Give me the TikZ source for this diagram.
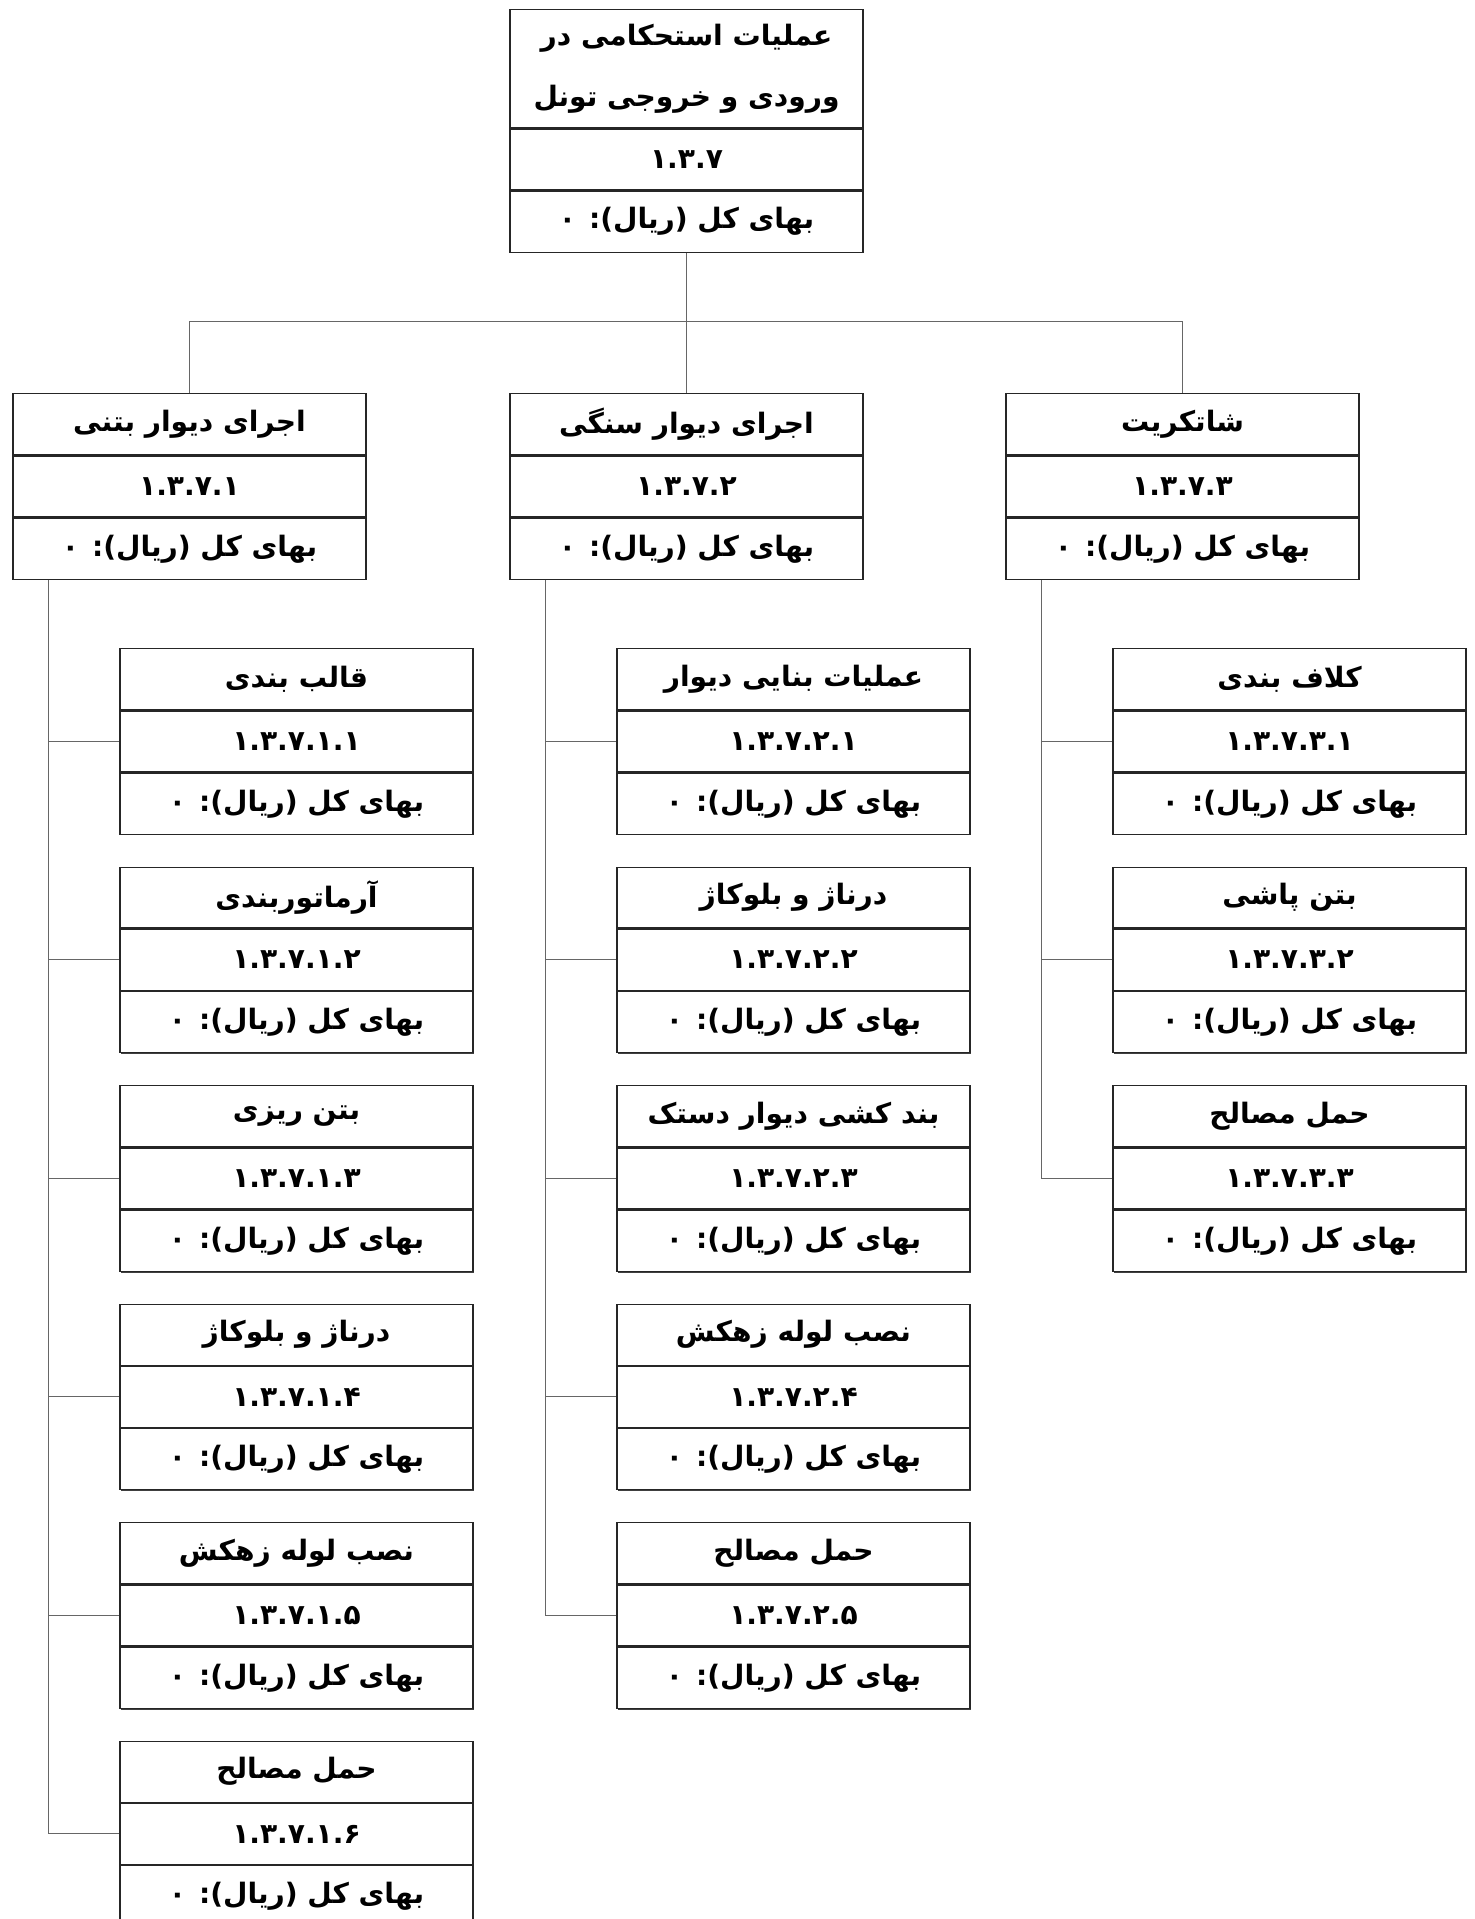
\documentclass[tikz,border=0pt]{standalone}
\usepackage{fontspec}
\newfontfamily\fafont[Script=Arabic]{DejaVu Sans}
\TeXXeTstate=1
\usetikzlibrary{positioning,shadows}

\newcommand{\rtlline}[1]{\beginR #1\endR}
\newcommand{\costline}{\rtlline{بهای کل (ریال): ۰}}
% one work package: title row, code row, cost row
\newcommand{\wbsbox}[5]{%
  \node[wrow, anchor=north] (#1-t) at (#2,#3) {\rtlline{#4}};
  \node[wrow, below=0pt of #1-t] (#1-c) {#5};
  \node[wrow, below=0pt of #1-c] (#1-p) {\costline};
}

\tikzset{
  wrow/.style={draw=black!85, line width=0.75pt, fill=white,
    minimum width=7.06cm, minimum height=1.22cm, inner sep=0pt,
    font=\fafont\bfseries\fontsize{16}{24}\selectfont,
    drop shadow={shadow xshift=0.7pt, shadow yshift=-0.7pt, fill=black!75, opacity=1}},
  link/.style={draw=black!60, line width=0.55pt},
}

\begin{document}
\begin{tikzpicture}[x=0.02cm, y=-0.02cm]
\useasboundingbox (0,0) rectangle (1474,1919);
% root
\node[wrow, anchor=north, minimum height=2.36cm, align=center,
  font=\fafont\bfseries\fontsize{16}{35}\selectfont] (top-t) at (686.5,9)
  {\rtlline{عملیات استحکامی در}\\\rtlline{ورودی و خروجی تونل}};
\node[wrow, below=0pt of top-t] (top-c) {۱.۳.۷};
\node[wrow, below=0pt of top-c] (top-p) {\costline};
% second level
\wbsbox{a}{189.5}{393}{اجرای دیوار بتنی}{۱.۳.۷.۱}
\wbsbox{b}{686.5}{393}{اجرای دیوار سنگی}{۱.۳.۷.۲}
\wbsbox{c}{1182.5}{393}{شاتکریت}{۱.۳.۷.۳}
\coordinate (bus) at (0,321);
\draw[link] (top-p.south) -- (top-p.south |- bus);
\draw[link] (a-t.north) |- (top-p.south |- bus);
\draw[link] (c-t.north) |- (top-p.south |- bus);
\draw[link] (b-t.north) -- (top-p.south |- bus);
% spines
\coordinate (aspine) at (48,0);
\coordinate (bspine) at (545,0);
\coordinate (cspine) at (1041,0);
% third level
\foreach \n/\t [count=\k from 0] in {قالب بندی/۱.۳.۷.۱.۱, آرماتوربندی/۱.۳.۷.۱.۲,
    بتن ریزی/۱.۳.۷.۱.۳, درناژ و بلوکاژ/۱.۳.۷.۱.۴, نصب لوله زهکش/۱.۳.۷.۱.۵,
    حمل مصالح/۱.۳.۷.۱.۶} {
  \wbsbox{a\k}{296.5}{{648+218.5*\k}}{\n}{\t}
  \draw[link] (a-p.south -| aspine) |- (a\k-c.west);
}
\foreach \n/\t [count=\k from 0] in {عملیات بنایی دیوار/۱.۳.۷.۲.۱, درناژ و بلوکاژ/۱.۳.۷.۲.۲,
    بند کشی دیوار دستک/۱.۳.۷.۲.۳, نصب لوله زهکش/۱.۳.۷.۲.۴, حمل مصالح/۱.۳.۷.۲.۵} {
  \wbsbox{b\k}{793.5}{{648+218.5*\k}}{\n}{\t}
  \draw[link] (b-p.south -| bspine) |- (b\k-c.west);
}
\foreach \n/\t [count=\k from 0] in {کلاف بندی/۱.۳.۷.۳.۱, بتن پاشی/۱.۳.۷.۳.۲,
    حمل مصالح/۱.۳.۷.۳.۳} {
  \wbsbox{c\k}{1289.5}{{648+218.5*\k}}{\n}{\t}
  \draw[link] (c-p.south -| cspine) |- (c\k-c.west);
}
\end{tikzpicture}
\end{document}
